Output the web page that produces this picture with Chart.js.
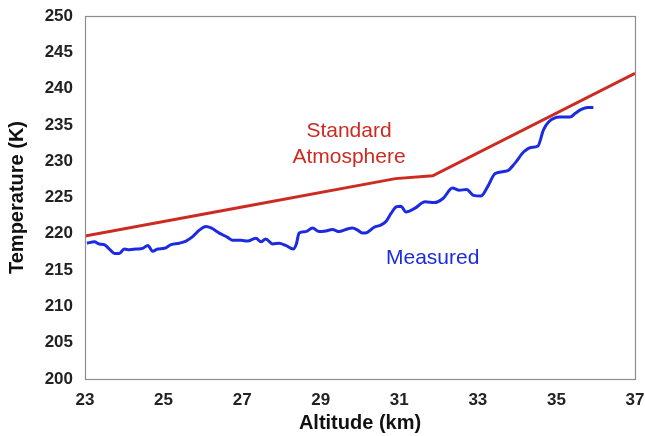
<!DOCTYPE html>
<html lang="en">
  <head>
    <meta charset="UTF-8" />
    <title>Temperature vs Altitude</title>
    <script src="https://cdn.jsdelivr.net/npm/chart.js"></script>
    <style>
      html, body { margin: 0; padding: 0; background: #fff; }
      canvas { display: block; }
    </style>
  </head>
  <body>
    <canvas id="grafico" width="645" height="436"></canvas>

    <script>
      // dados
      const altPadrao = [23, 27, 30.9, 31.85, 37]
      const tempPadrao = [219.7, 223.7, 227.6, 228.0, 242.1]

      const altMedida = [
        23.05, 23.24, 23.36, 23.49, 23.62, 23.75, 23.87, 24.0, 24.13, 24.3,
        24.47, 24.6, 24.72, 24.85, 25.02, 25.19, 25.4, 25.57, 25.74, 25.91,
        26.08, 26.21, 26.42, 26.63, 26.76, 26.97, 27.14, 27.35, 27.48, 27.6,
        27.78, 27.94, 28.11, 28.3, 28.38, 28.45, 28.62, 28.79, 28.96, 29.13,
        29.3, 29.47, 29.64, 29.81, 29.94, 30.07, 30.19, 30.36, 30.53, 30.66,
        30.79, 30.92, 31.04, 31.17, 31.39, 31.66, 31.89, 32.12, 32.35, 32.53,
        32.71, 32.89, 33.08, 33.25, 33.44, 33.76, 33.94, 34.17, 34.35, 34.53,
        34.67, 34.8, 35.08, 35.35, 35.48, 35.62, 35.8, 35.94
      ]
      const tempMedida = [
        218.7, 218.9, 218.6, 218.5, 217.9, 217.3, 217.3, 217.9, 217.8, 217.9,
        218.0, 218.4, 217.6, 217.9, 218.0, 218.5, 218.7, 219.0, 219.6, 220.5,
        221.0, 220.8, 220.1, 219.5, 219.1, 219.1, 219.0, 219.4, 218.9, 219.3,
        218.6, 218.7, 218.4, 217.9, 218.6, 220.1, 220.3, 220.8, 220.3, 220.4,
        220.6, 220.3, 220.6, 220.8, 220.5, 220.1, 220.2, 220.9, 221.2, 221.7,
        222.8, 223.7, 223.8, 223.0, 223.5, 224.4, 224.3, 224.9, 226.3, 226.0,
        226.1, 225.3, 225.2, 226.5, 228.3, 228.7, 229.7, 231.3, 231.9, 232.1,
        234.3, 235.4, 236.1, 236.1, 236.6, 237.1, 237.4, 237.4
      ]

      const ticksX = [23, 25, 27, 29, 31, 33, 35, 37]
      const ticksY = [200, 205, 210, 215, 220, 225, 230, 235, 240, 245, 250]

      const corVermelha = "#cc2b22"
      const corAzul = "#1c2be0"

      // rótulos dentro do gráfico (posição em unidades dos dados)
      const rotulos = [
        { texto: "Standard", x: 29.72, y: 234.2, cor: corVermelha },
        { texto: "Atmosphere", x: 29.72, y: 230.5, cor: corVermelha },
        { texto: "Measured", x: 31.85, y: 216.7, cor: corAzul },
      ]

      function pares(xs, ys) {
        let lista = []
        for (let i = 0; i < xs.length; i++) {
          lista.push({ x: xs[i], y: ys[i] })
        }
        return lista
      }

      // moldura + textos
      const pluginExtras = {
        id: "extras",
        afterDatasetsDraw(chart) {
          const ctx = chart.ctx
          const area = chart.chartArea
          const sx = chart.scales.x
          const sy = chart.scales.y

          ctx.save()
          ctx.strokeStyle = "#8c8c8c"
          ctx.lineWidth = 1.2
          ctx.strokeRect(area.left + 0.5, area.top + 0.5, area.right - area.left, area.bottom - area.top)

          ctx.font = "21px 'Liberation Sans', Arial, sans-serif"
          ctx.textAlign = "center"
          ctx.textBaseline = "middle"
          for (let i = 0; i < rotulos.length; i++) {
            const r = rotulos[i]
            ctx.fillStyle = r.cor
            ctx.fillText(r.texto, sx.getPixelForValue(r.x), sy.getPixelForValue(r.y))
          }
          ctx.restore()
        },
      }

      const fonteTick = { family: "'Liberation Sans', Arial, sans-serif", size: 17, weight: "bold" }
      const fonteTitulo = { family: "'Liberation Sans', Arial, sans-serif", size: 20, weight: "bold" }

      new Chart(document.getElementById("grafico").getContext("2d"), {
        type: "scatter",
        data: {
          datasets: [
            {
              label: "Standard Atmosphere",
              data: pares(altPadrao, tempPadrao),
              showLine: true,
              borderColor: corVermelha,
              borderWidth: 3,
              pointRadius: 0,
              tension: 0,
            },
            {
              label: "Measured",
              data: pares(altMedida, tempMedida),
              showLine: true,
              borderColor: corAzul,
              borderWidth: 3,
              pointRadius: 0,
              cubicInterpolationMode: "monotone",
            },
          ],
        },
        options: {
          responsive: false,
          animation: false,
          layout: { padding: { left: 0, top: 16, right: 10, bottom: 0 } },
          plugins: {
            legend: { display: false },
            tooltip: { enabled: false },
          },
          scales: {
            x: {
              type: "linear",
              min: 23,
              max: 37,
              afterBuildTicks: function (escala) {
                escala.ticks = ticksX.map(function (v) { return { value: v } })
              },
              afterFit: function (escala) {
                escala.height = 57
                escala.paddingLeft = 0
                escala.paddingRight = 0
              },
              grid: { display: false, drawTicks: false },
              border: { display: false },
              ticks: { color: "#222", font: fonteTick, padding: 11, maxRotation: 0 },
              title: {
                display: true,
                text: "Altitude (km)",
                color: "#111",
                font: fonteTitulo,
                padding: { top: 0, bottom: 1 },
              },
            },
            y: {
              type: "linear",
              min: 200,
              max: 250,
              afterBuildTicks: function (escala) {
                escala.ticks = ticksY.map(function (v) { return { value: v } })
              },
              afterFit: function (escala) {
                escala.width = 85
                escala.paddingTop = 0
                escala.paddingBottom = 0
              },
              grid: { display: false, drawTicks: false },
              border: { display: false },
              ticks: { color: "#222", font: fonteTick, padding: 12 },
              title: {
                display: true,
                text: "Temperature (K)",
                color: "#111",
                font: fonteTitulo,
                padding: { top: 5, bottom: 0 },
              },
            },
          },
        },
        plugins: [pluginExtras],
      })
    </script>
  </body>
</html>
